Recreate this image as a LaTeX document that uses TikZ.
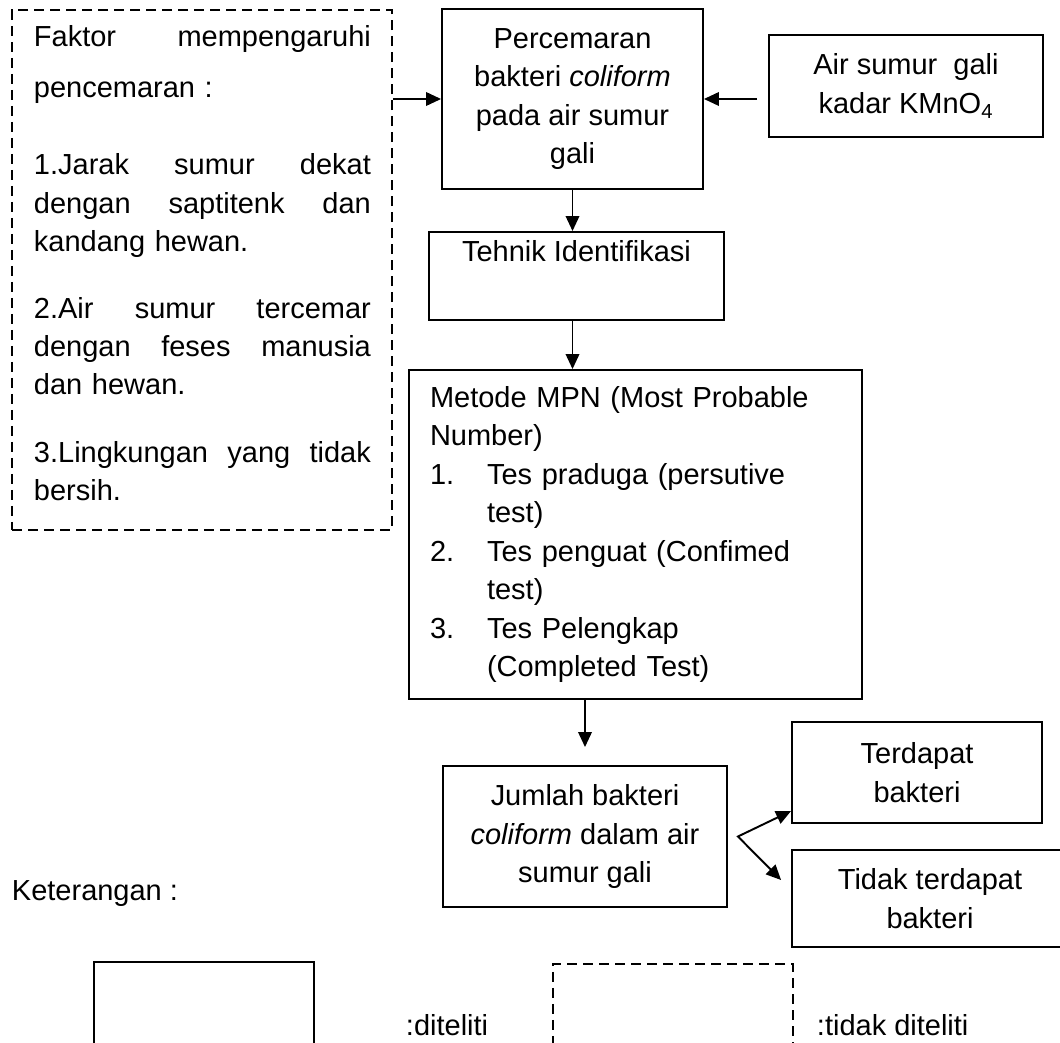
\documentclass[tikz,border=0pt]{standalone}
\usepackage{fontspec}
\setmainfont{Liberation Sans}
\usetikzlibrary{arrows.meta}

\begin{document}
\begin{tikzpicture}[x=0.02cm, y=-0.02cm, line width=1.1pt,
  font=\fontsize{16.5}{21.9}\selectfont,
  box/.style={draw, align=center, inner sep=0pt},
  dashbox/.style={draw, dash pattern=on 0.2cm off 0.12cm, inner sep=0pt},
  para/.style={text width=6.74cm, align=left, inner sep=0pt, anchor=base west},
  label/.style={anchor=base west, inner sep=0pt},
  arr/.style={-{Triangle[length=0.3cm, width=0.27cm]}},
  arrs/.style={{Triangle[length=0.3cm, width=0.27cm]}-{Triangle[length=0.3cm, width=0.27cm]}}]
  \useasboundingbox (0,0) rectangle (1060,1043);
  % factors (not studied)
  \node[dashbox, minimum width=7.6cm, minimum height=10.4cm] (faktor) at (202,270) {};
  \node[para] (fak0) at (33,47) {Faktor\hfill mempengaruhi\\[0.25cm]pencemaran :};
  \node[para] (fak1) at (33,175) {1.Jarak\hfill sumur\hfill dekat\\ dengan\hfill saptitenk\hfill dan\\ kandang hewan.};
  \node[para] (fak2) at (33,318) {2.Air\hfill sumur\hfill tercemar\\ dengan\hfill feses\hfill manusia\\ dan hewan.};
  \node[para] (fak3) at (33,462) {3.Lingkungan\hfill yang\hfill tidak\\ bersih.};
  % main flow
  \node[box, minimum width=5.22cm, minimum height=3.6cm] (pcm) at (572.5,99) {Percemaran\\ bakteri \textit{coliform}\\ pada air sumur\\ gali};
  \node[box, minimum width=5.48cm, minimum height=2.04cm] (air) at (906,86) {Air sumur\ \ gali\\ kadar KMnO\textsubscript{4}};
  \node[box, minimum width=5.9cm, minimum height=1.76cm] (tek) at (576.5,276) {Tehnik Identifikasi\\ \strut};
  \node[box, align=left, text width=8.22cm, inner xsep=0.42cm, minimum height=6.58cm] (mpn) at (635.5,534.5)
    {Metode MPN (Most Probable\\ Number)\\
     \makebox[1.14cm][l]{1.}Tes praduga (persutive\\ \hspace*{1.14cm}test)\\
     \makebox[1.14cm][l]{2.}Tes penguat (Confimed\\ \hspace*{1.14cm}test)\\
     \makebox[1.14cm][l]{3.}Tes Pelengkap\\ \hspace*{1.14cm}(Completed Test)};
  \node[box, minimum width=5.68cm, minimum height=2.82cm] (jml) at (585,836.5) {Jumlah bakteri\\ \textit{coliform} dalam air\\ sumur gali};
  \node[box, minimum width=5cm, minimum height=2.02cm] (ter) at (917,772.5) {Terdapat\\ bakteri};
  \node[box, minimum width=5.52cm, minimum height=1.94cm] (tdk) at (930,898.5) {Tidak terdapat\\ bakteri};
  \coordinate (fork) at ([xshift=0.2cm]jml.east);
  % arrows
  \draw[arr] (faktor.east |- pcm.west) -- (pcm.west);
  \draw[arr, shorten <=0.22cm] (air.west |- pcm.east) -- (pcm.east);
  \draw[arr] (pcm.south) -- (pcm.south |- tek.north);
  \draw[arr] (pcm.south |- tek.south) -- (pcm.south |- mpn.north);
  \draw[arr, shorten >=0.36cm] (mpn.south -| jml.north) -- (jml.north);
  \draw[arrs] ([yshift=0.26cm]ter.south west) -- (fork) -- ([xshift=-0.2cm, yshift=0.37cm]tdk.west);
  % legend
  \node[label] (ket) at (11,900) {Keterangan :};
  \node[draw, minimum width=4.4cm, minimum height=2.4cm, anchor=north west, inner sep=0pt] (legA) at (93,961) {};
  \node[label] (legAt) at (405,1035) {:diteliti};
  \node[dashbox, minimum width=4.8cm, minimum height=2.4cm, anchor=north west] (legB) at (552,963) {};
  \node[label] (legBt) at (816,1035) {:tidak diteliti};
\end{tikzpicture}
\end{document}
